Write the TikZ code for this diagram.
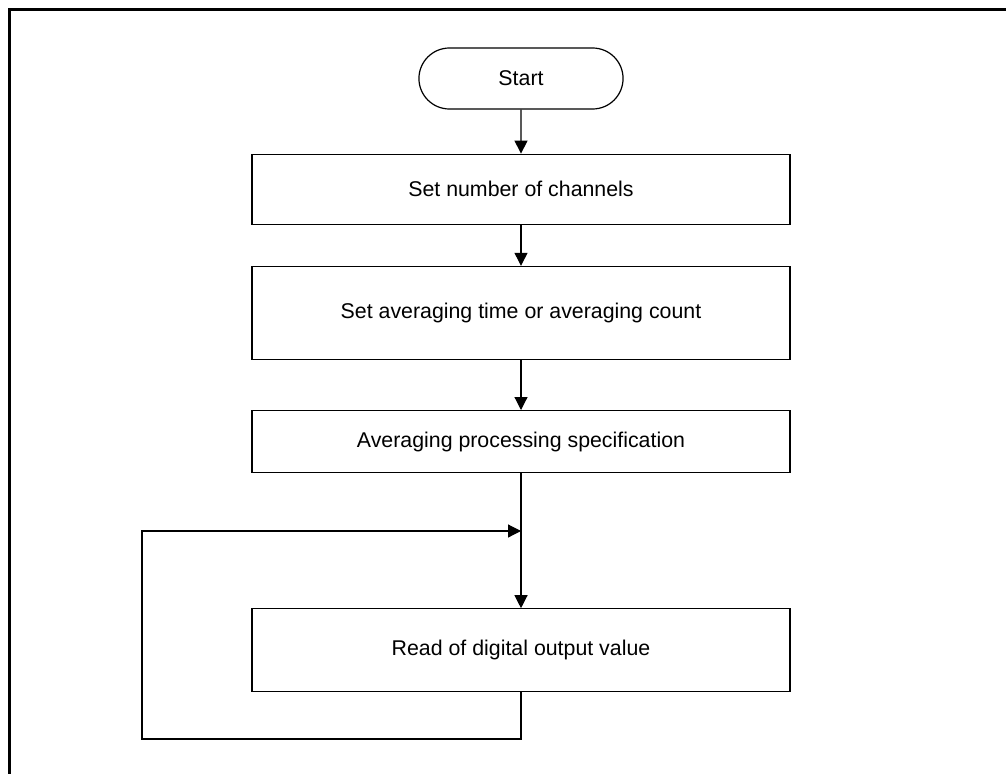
\documentclass[tikz,border=0pt]{standalone}
\usepackage{fontspec}
\setmainfont{Liberation Sans}
\usetikzlibrary{arrows.meta,positioning,shapes.misc}
\tikzset{
  flowterm/.style={
    rounded rectangle,
    draw=black,
    line width=0.9pt,
    minimum width=159.75pt,
    minimum height=45.75pt,
    font=\fontsize{16}{19}\selectfont
  },
  flowstep/.style={
    rectangle,
    draw=black,
    line width=0.9pt,
    inner sep=0pt,
    minimum width=403.5pt,
    font=\fontsize{16}{19}\selectfont
  },
  flowline/.style={line width=0.9pt, draw=black},
  flowarrow/.style={flowline, -{Triangle[length=9.75pt,width=9.75pt]}},
  frameline/.style={line width=2.25pt, draw=black}
}

\begin{document}
\begin{tikzpicture}[x=0.75pt,y=0.75pt]
\useasboundingbox (0,0) rectangle (1006,-774);
\draw[frameline] (1006,-9.5) -- (9.5,-9.5) -- (9.5,-774);
\node[flowterm] (start) at (521,-78.5) {Start};
\node[flowstep, below=33pt of start, minimum height=52.5pt] (channels) {Set number of channels};
\node[flowstep, below=30.75pt of channels, minimum height=69.75pt] (avgtime) {Set averaging time or averaging count};
\node[flowstep, below=37.5pt of avgtime, minimum height=46.5pt] (avgspec) {Averaging processing specification};
\node[flowstep, below=101.25pt of avgspec, minimum height=62.25pt] (readout) {Read of digital output value};
\coordinate (loopcorner) at (142,-739);
\coordinate (merge) at (521,-531);
\draw[flowarrow] (start) -- (channels);
\draw[flowarrow] (channels) -- (avgtime);
\draw[flowarrow] (avgtime) -- (avgspec);
\draw[flowarrow] (avgspec) -- (readout);
\draw[flowarrow] (readout.south) |- (loopcorner) |- (merge);
\end{tikzpicture}
\end{document}
